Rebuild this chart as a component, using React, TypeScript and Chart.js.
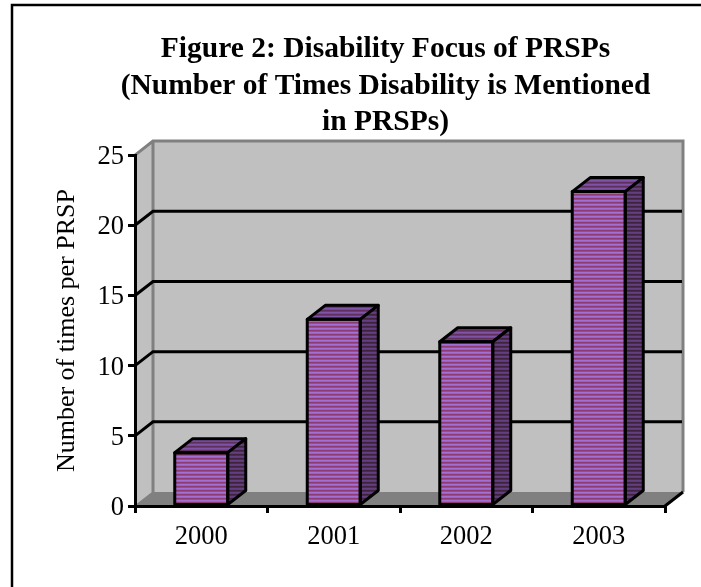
import React, { useEffect, useRef } from "react";
import { Chart, registerables } from "chart.js";

Chart.register(...registerables);

const years = ["2000", "2001", "2002", "2003"];
const mentionsPerPrsp = [3.8, 13.3, 11.7, 22.4];
const wallTicks = [5, 10, 15, 20];
const titleLines = [
  "Figure 2: Disability Focus of PRSPs",
  "(Number of Times Disability is Mentioned",
  "in PRSPs)",
];
const yAxisLabel = "Number of times per PRSP";

const frontStripes = ["#a070d4", "#8a68d0", "#8e3c70", "#a04a84"];
const topStripes = ["#7e54a8", "#6c4c9c", "#60305c", "#703a6c"];
const sideStripes = ["#604080", "#583c78", "#40223c", "#50284c"];

const DEPTH_X = 18;
const DEPTH_Y = 14;
const SERIF = "'Liberation Serif', serif";

function stripePattern(ctx: CanvasRenderingContext2D, colors: string[]) {
  const tile = document.createElement("canvas");
  tile.width = 1;
  tile.height = colors.length;
  const t = tile.getContext("2d")!;
  colors.forEach((c, i) => {
    t.fillStyle = c;
    t.fillRect(0, i, 1, 1);
  });
  return ctx.createPattern(tile, "repeat")!;
}

function polygon(ctx: CanvasRenderingContext2D, pts: number[][], fill?: any, stroke?: string, width = 3) {
  ctx.beginPath();
  pts.forEach(([x, y], i) => (i ? ctx.lineTo(x, y) : ctx.moveTo(x, y)));
  ctx.closePath();
  if (fill) {
    ctx.fillStyle = fill;
    ctx.fill();
  }
  if (stroke) {
    ctx.strokeStyle = stroke;
    ctx.lineWidth = width;
    ctx.lineJoin = "round";
    ctx.stroke();
  }
}

// Paints the page frame, the box behind the plot and the extruded bar faces.
const boxPlugin = {
  id: "box3d",
  afterLayout(chart: any) {
    // Title is centred over the frame, not over the whole canvas.
    chart.titleBlock.left = 70;
    chart.titleBlock.right = 701;
  },
  beforeDraw(chart: any) {
    const { ctx, chartArea: a, scales } = chart;
    const { left: l, right: r, top: t, bottom: b } = a;
    ctx.save();
    ctx.fillStyle = "#ffffff";
    ctx.fillRect(0, 0, chart.width, chart.height);

    ctx.beginPath();
    ctx.moveTo(12, 587);
    ctx.lineTo(12, 5);
    ctx.lineTo(701, 5);
    ctx.strokeStyle = "#000000";
    ctx.lineWidth = 2.5;
    ctx.stroke();

    const dx = DEPTH_X;
    const dy = DEPTH_Y;
    polygon(ctx, [[l + dx, t - dy], [r + dx, t - dy], [r + dx, b - dy], [l + dx, b - dy]], "#c0c0c0");
    polygon(ctx, [[l, t], [l + dx, t - dy], [l + dx, b - dy], [l, b]], "#c0c0c0");
    polygon(ctx, [[l, b], [l + dx, b - dy], [r + dx, b - dy], [r, b]], "#808080");

    ctx.strokeStyle = "#808080";
    ctx.lineWidth = 3;
    ctx.beginPath();
    ctx.moveTo(l, t);
    ctx.lineTo(l + dx, t - dy);
    ctx.lineTo(r + dx, t - dy);
    ctx.lineTo(r + dx, b - dy);
    ctx.moveTo(l + dx, t - dy);
    ctx.lineTo(l + dx, b - dy);
    ctx.stroke();
    ctx.lineWidth = 1.5;
    ctx.beginPath();
    ctx.moveTo(l + dx, b - dy);
    ctx.lineTo(l, b);
    ctx.stroke();

    ctx.strokeStyle = "#000000";
    ctx.lineWidth = 3;
    ctx.beginPath();
    ctx.moveTo(r, b);
    ctx.lineTo(r + dx, b - dy);
    ctx.stroke();
    wallTicks.forEach((v) => {
      const y = scales.y.getPixelForValue(v);
      ctx.beginPath();
      ctx.moveTo(l, y);
      ctx.lineTo(l + dx, y - dy);
      ctx.lineTo(r + dx - 1, y - dy);
      ctx.stroke();
    });
    ctx.restore();
  },
  afterDatasetsDraw(chart: any) {
    const { ctx } = chart;
    const top = stripePattern(ctx, topStripes);
    const side = stripePattern(ctx, sideStripes);
    const dx = DEPTH_X;
    const dy = DEPTH_Y;
    ctx.save();
    chart.getDatasetMeta(0).data.forEach((bar: any) => {
      const hw = bar.width / 2;
      const x0 = bar.x - hw;
      const x1 = bar.x + hw;
      const y0 = bar.y;
      const y1 = bar.base;
      polygon(ctx, [[x0, y0], [x0 + dx, y0 - dy], [x1 + dx, y0 - dy], [x1, y0]], top, "#000000");
      polygon(ctx, [[x1, y0], [x1 + dx, y0 - dy], [x1 + dx, y1 - dy], [x1, y1]], side, "#000000");
      polygon(ctx, [[x0, y0], [x1, y0], [x1, y1], [x0, y1]], undefined, "#000000");
    });
    ctx.restore();
  },
};

export default function App() {
  const ref = useRef<HTMLCanvasElement>(null);

  useEffect(() => {
    const canvas = ref.current!;
    const ctx = canvas.getContext("2d")!;
    const chart = new Chart(canvas, {
      type: "bar",
      data: {
        labels: years,
        datasets: [
          {
            label: yAxisLabel,
            data: mentionsPerPrsp,
            backgroundColor: stripePattern(ctx, frontStripes),
            borderWidth: 0,
            barPercentage: 0.4,
            categoryPercentage: 1,
          },
        ],
      },
      options: {
        responsive: false,
        animation: false,
        layout: { padding: { top: 0, left: 0, right: 36, bottom: 0 } },
        plugins: {
          legend: { display: false },
          tooltip: { enabled: false },
          title: {
            display: true,
            text: titleLines,
            color: "#000000",
            font: { family: SERIF, size: 29.5, weight: "bold", lineHeight: 36.7 / 29.5 },
            padding: { top: 31, bottom: 14 },
          },
        },
        scales: {
          x: {
            afterFit(s: any) {
              s.height = 81;
            },
            grid: { drawOnChartArea: false, drawTicks: true, tickLength: 7, color: "#000000", lineWidth: 3 },
            border: { display: true, color: "#000000", width: 3 },
            ticks: {
              color: "#000000",
              font: { family: SERIF, size: 26.5 },
              padding: 8,
              autoSkip: false,
              maxRotation: 0,
            },
          },
          y: {
            min: 0,
            max: 25,
            afterFit(s: any) {
              s.width = 135;
            },
            grid: { drawOnChartArea: false, drawTicks: true, tickLength: 7, color: "#000000", lineWidth: 3 },
            border: { display: true, color: "#000000", width: 3 },
            ticks: {
              stepSize: 5,
              color: "#000000",
              font: { family: SERIF, size: 26.5 },
              padding: 4,
              labelOffset: 2,
            },
            title: {
              display: true,
              text: yAxisLabel,
              color: "#000000",
              font: { family: SERIF, size: 26 },
              padding: { top: 52, bottom: 0 },
            },
          },
        },
      },
      plugins: [boxPlugin],
    } as any);
    return () => chart.destroy();
  }, []);

  return (
    <canvas
      ref={ref}
      width={701}
      height={587}
      style={{ position: "absolute", left: 0, top: 0, display: "block", width: 701, height: 587 }}
    />
  );
}
